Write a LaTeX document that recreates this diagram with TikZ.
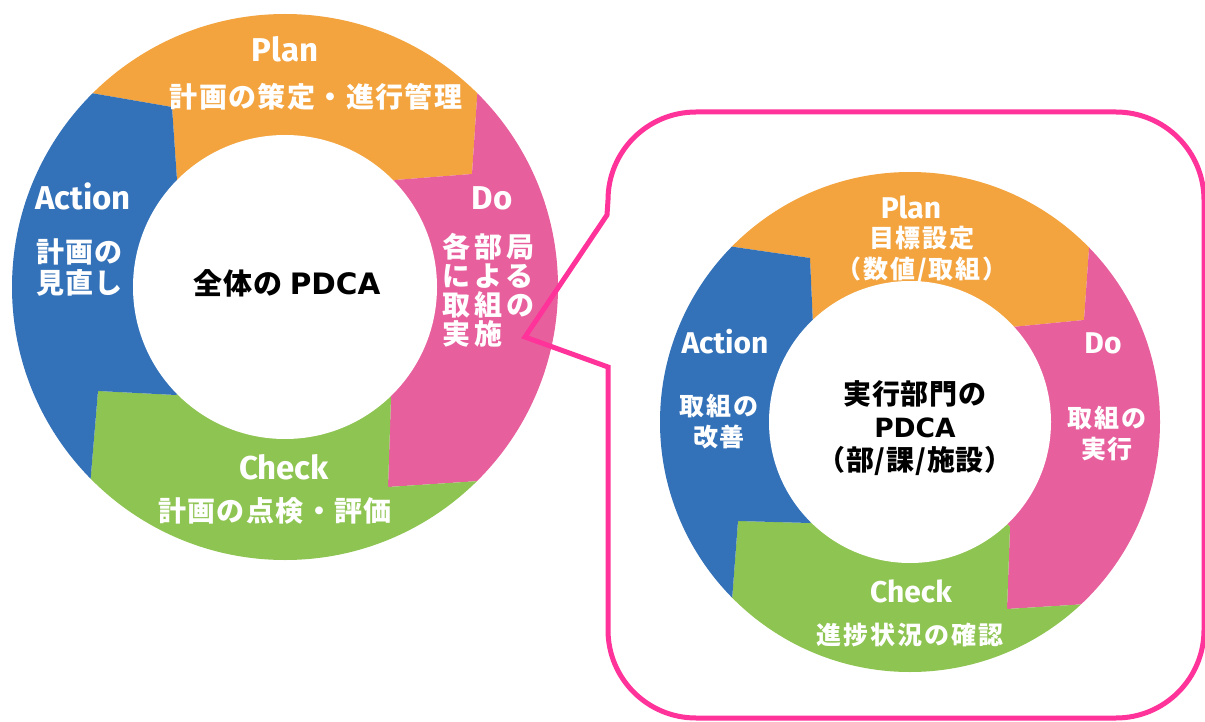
\documentclass[tikz,border=0pt]{standalone}
\usepackage{fontspec}
\newfontfamily\lat{Fira Sans}
\newfontfamily\jp{Noto Sans CJK JP}
\newfontfamily\jpsp{Noto Sans CJK JP}[LetterSpace=5]
\newfontfamily\jpwide{Noto Sans CJK JP}[LetterSpace=14]
\newfontfamily\jps{Noto Sans CJK JP}[LetterSpace=8]
\newfontfamily\jpc{Noto Sans CJK JP}[LetterSpace=3]
\newfontfamily\dv{DejaVu Sans}
\definecolor{cPlan}{HTML}{F3A43F}
\definecolor{cDo}{HTML}{E7609D}
\definecolor{cCheck}{HTML}{8EC451}
\definecolor{cAct}{HTML}{3371B8}
\definecolor{cCall}{HTML}{FF3399}
\tikzset{
  ph/.style={text=white, inner sep=0pt, anchor=base, font=\lat\bfseries\fontsize{33}{33}\selectfont},
  phs/.style={text=white, inner sep=0pt, anchor=base, font=\lat\bfseries\fontsize{30}{30}\selectfont},
  jw/.style={text=white, inner sep=0pt, font=\jpsp\bfseries\fontsize{28}{31}\selectfont},
  jwide/.style={text=white, inner sep=0pt, font=\jpwide\bfseries\fontsize{28}{29}\selectfont},
  jws/.style={text=white, inner sep=0pt, font=\jps\bfseries\fontsize{25}{31}\selectfont},
  cbig/.style={text=black, inner sep=0pt, font=\jpc\bfseries\fontsize{29}{33}\selectfont},
  csmall/.style={text=black, inner sep=0pt, font=\jpc\bfseries\fontsize{28}{33}\selectfont},
  callout/.style={draw=cCall, line width=5pt, line join=miter},
}
\begin{document}
\begin{tikzpicture}[x=1pt,y=-1pt]
\useasboundingbox (0,0) rectangle (1205,722);
\fill[white] (0,0) rectangle (1205,722);

% ---------- left ring ----------
\begin{scope}
  \clip (285,287) circle[radius=273];
  \fill[cPlan] (285,287) -- (177,180) -- (172,107) -- (62,88) -- (62,-50) -- (520,-50) -- (479,68) -- (472,174) -- (395,180) -- cycle;
  \fill[cDo] (285,287) -- (395,180) -- (472,174) -- (479,68) -- (650,68) -- (650,479) -- (510,479) -- (388,487) -- (391,397) -- cycle;
  \fill[cCheck] (285,287) -- (391,397) -- (388,487) -- (510,479) -- (510,650) -- (60,650) -- (88,510) -- (98,391) -- (176,395) -- cycle;
  \fill[cAct] (285,287) -- (176,395) -- (98,391) -- (88,510) -- (-50,510) -- (-50,88) -- (62,88) -- (172,107) -- (177,180) -- cycle;
\end{scope}
\fill[white] (285,287) circle[radius=152];

% ---------- callout ----------
\draw[callout] (608,367) -- (608,630) arc[start angle=180, end angle=90, radius=88]
  -- (1116,718) arc[start angle=90, end angle=0, radius=88]
  -- (1204,200) arc[start angle=0, end angle=-90, radius=88]
  -- (696,112) arc[start angle=-90, end angle=-180, radius=88]
  -- (607,215) -- (525,337) -- cycle;

% ---------- right ring ----------
\begin{scope}
  \clip (910,422) circle[radius=250];
  \fill[cPlan] (910,422) -- (813,325) -- (810,258) -- (700,242) -- (700,100) -- (1130,100) -- (1091,220) -- (1084,320) -- (1012,327) -- cycle;
  \fill[cDo] (910,422) -- (1012,327) -- (1084,320) -- (1091,220) -- (1250,220) -- (1250,602) -- (1120,602) -- (1007,609) -- (1010,527) -- cycle;
  \fill[cCheck] (910,422) -- (1010,527) -- (1007,609) -- (1120,602) -- (1120,750) -- (700,750) -- (729,640) -- (738,521) -- (810,523) -- cycle;
  \fill[cAct] (910,422) -- (810,523) -- (738,521) -- (729,640) -- (600,640) -- (600,242) -- (700,242) -- (810,258) -- (813,325) -- cycle;
\end{scope}
\fill[white] (910,422) circle[radius=141];

% ---------- left texts ----------
\node[ph] (lplan) at (285,62) {Plan};
\node[jw] (lplant) at (316,97) {計画の策定・進行管理};
\node[ph] (lact) at (83,210) {Action};
\node[jw, align=left, anchor=west] (lactt) at (36,268) {計画の\\見直し};
\node[ph] (ldo) at (492,210) {Do};
\node[jwide, align=left, anchor=west] (ldot) at (442,290) {各部局\\による\\取組の\\実施};
\node[ph] (lchk) at (284,479) {Check};
\node[jw] (lchkt) at (275,511) {計画の点検・評価};
\node[cbig] (lc) at (287,283) {全体の {\dv\fontsize{29.5}{33}\selectfont PDCA}};

% ---------- right texts ----------
\node[phs] (rplan) at (911,219) {Plan};
\node[jws, align=center] (rplant) at (922,255) {目標設定\\（数値/取組）};
\node[phs] (ract) at (725,353) {Action};
\node[jws, align=center] (ractt) at (719,422) {取組の\\改善};
\node[phs] (rdo) at (1103,353) {Do};
\node[jws, align=center] (rdot) at (1107,434) {取組の\\実行};
\node[phs] (rchk) at (911,602) {Check};
\node[jws] (rchkt) at (910,635) {進捗状況の確認};
\node[csmall, align=center] (rc) at (915,428) {実行部門の\\{\dv\fontsize{26.5}{33}\selectfont PDCA}\\（部/課/施設）};
\end{tikzpicture}
\end{document}
